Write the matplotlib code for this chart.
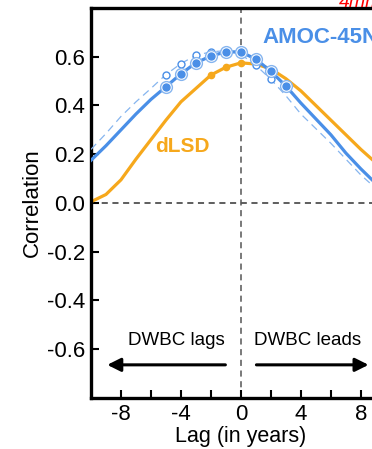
"""Lagged correlation of DWBC with AMOC-45N and dLSD."""

import matplotlib
import matplotlib.pyplot as plt
import numpy as np

matplotlib.use("Agg")

plt.rcParams["font.family"] = ["Liberation Sans", "DejaVu Sans"]

# lag in years
LAGS = np.arange(-10, 11)

# AMOC-45N (solid) and its dashed companion, dLSD (orange)
AMOC = [0.175, 0.235, 0.30, 0.365, 0.425, 0.477, 0.53, 0.575, 0.603, 0.62, 0.62,
        0.59, 0.54, 0.48, 0.41, 0.345, 0.28, 0.205, 0.14, 0.08, 0.03]
AMOC_DASH = [0.22, 0.285, 0.355, 0.415, 0.47, 0.527, 0.572, 0.606, 0.62, 0.625, 0.61,
             0.565, 0.507, 0.44, 0.365, 0.305, 0.245, 0.18, 0.115, 0.06, 0.01]
DLSD = [0.005, 0.035, 0.095, 0.18, 0.26, 0.34, 0.415, 0.47, 0.525, 0.557, 0.575,
        0.57, 0.55, 0.51, 0.46, 0.40, 0.34, 0.28, 0.22, 0.165, 0.12]

# lags flagged as significant
SIG_AMOC = [-5, -4, -3, -2, -1, 0, 1, 2, 3]
SIG_DASH = [-5, -4, -3, -2, -1, 0, 1, 2]
SIG_DLSD = [-2, -1, 0]

BLUE = "#4a8fe7"
LIGHT_BLUE = "#86b5ef"
ORANGE = "#f6a81c"


def pick(values, lags):
    idx = [int(np.where(LAGS == l)[0][0]) for l in lags]
    return [values[i] for i in idx]


fig = plt.figure(figsize=(3.72, 4.49), dpi=100)
ax = fig.add_axes([0.2446, 0.1136, 0.806, 0.8686])

ax.axhline(0, color="#333333", ls=(0, (4, 3)), lw=1.1, zorder=1)
ax.axvline(0, color="#555555", ls=(0, (4, 3)), lw=1.1, zorder=1)

ax.plot(LAGS, DLSD, color=ORANGE, lw=2.3, zorder=2)
ax.plot(SIG_DLSD, pick(DLSD, SIG_DLSD), "o", color=ORANGE, ms=4.5, zorder=3)

ax.plot(LAGS, AMOC_DASH, color=LIGHT_BLUE, lw=0.9, ls=(0, (6, 4)), zorder=3)
ax.plot(SIG_DASH, pick(AMOC_DASH, SIG_DASH), "o", mfc="white", mec=BLUE,
        mew=1.0, ms=5, zorder=4)

ax.plot(LAGS, AMOC, color=BLUE, lw=2.3, zorder=5)
ax.plot(SIG_AMOC, pick(AMOC, SIG_AMOC), "o", mfc="white", mec=LIGHT_BLUE,
        mew=1.0, ms=8.5, zorder=6)
ax.plot(SIG_AMOC, pick(AMOC, SIG_AMOC), "o", color=BLUE, ms=5, zorder=7)

ax.text(1.45, 0.68, "AMOC-45N", color=BLUE, fontsize=16, fontweight="bold",
        ha="left", va="center")
ax.text(-5.75, 0.23, "dLSD", color=ORANGE, fontsize=15, fontweight="bold",
        ha="left", va="center")

ax.text(-4.3, -0.565, "DWBC lags", fontsize=13.5, ha="center", va="center")
ax.text(0.85, -0.565, "DWBC leads", fontsize=13.5, ha="left", va="center")
arrow = dict(arrowstyle="-|>", lw=2.2, color="black", mutation_scale=20)
ax.annotate("", xy=(-9.1, -0.664), xytext=(-0.85, -0.664), arrowprops=arrow)
ax.annotate("", xy=(8.7, -0.664), xytext=(0.85, -0.664), arrowprops=arrow)

ax.set_xlim(-10, 10)
ax.set_ylim(-0.8, 0.8)
ax.set_xticks([-8, -4, 0, 4, 8])
ax.set_xticks([-6, -2, 2, 6], minor=True)
ax.set_yticks([-0.6, -0.4, -0.2, 0.0, 0.2, 0.4, 0.6])
ax.set_yticklabels(["-0.6", "-0.4", "-0.2", "0.0", "0.2", "0.4", "0.6"])
ax.set_xticklabels(["-8", "-4", "0", "4", "8"])
ax.tick_params(which="both", direction="in", length=6, width=1.5,
               labelsize=16, pad=4)
for sp in ax.spines.values():
    sp.set_linewidth(2.4)

ax.set_xlabel("Lag (in years)", fontsize=15.5, labelpad=1)
ax.set_ylabel("Correlation", fontsize=16, labelpad=3)

# label from the panel above, cut by the top edge
fig.text(0.91, 1 - 7 / 449, "4mm/yr", color="red", fontsize=14,
         style="italic", va="baseline", ha="left")

fig.savefig("out.png", dpi=100)
plt.close(fig)
